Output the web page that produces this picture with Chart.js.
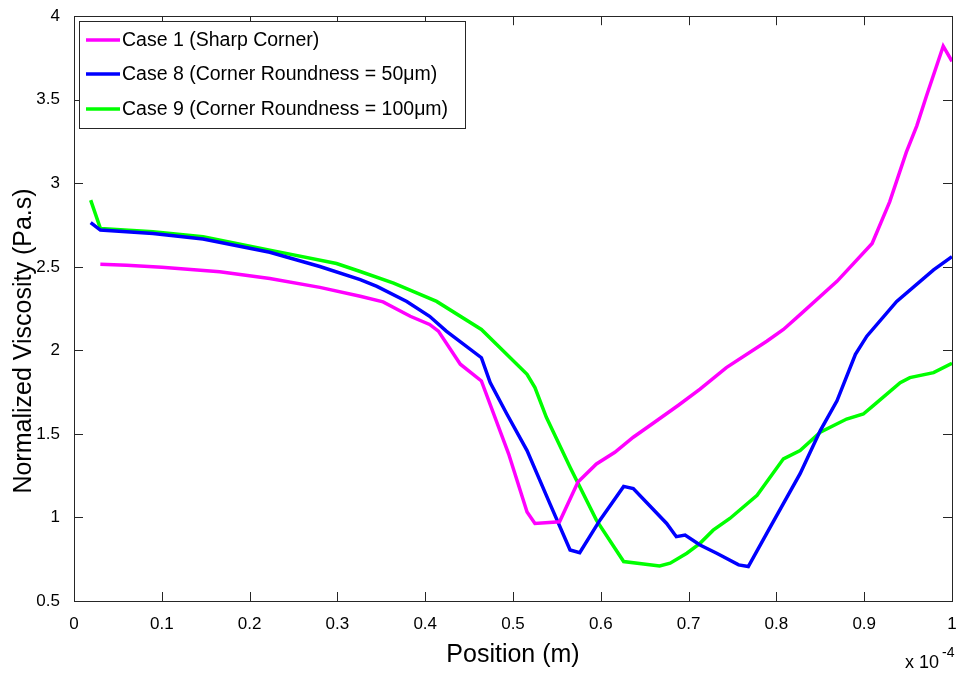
<!DOCTYPE html>
<html>
<head>
<meta charset="utf-8">
<script src="https://cdn.jsdelivr.net/npm/chart.js@4/dist/chart.umd.min.js"></script>
<style>
  html, body { margin: 0; padding: 0; background: #fff; }
  #wrap { width: 959px; height: 675px; }
</style>
</head>
<body>
<div id="wrap"><canvas id="viscosityChart" width="959" height="675"></canvas></div>
<script>
// ---- data (position in units of 1e-4 m) ----
const case1X = [0.03, 0.06, 0.1, 0.166, 0.223, 0.28, 0.326, 0.352, 0.383, 0.405, 0.415, 0.44, 0.464, 0.495, 0.516, 0.525, 0.553, 0.574, 0.595, 0.616, 0.637, 0.664, 0.688, 0.713, 0.743, 0.789, 0.808, 0.827, 0.869, 0.909, 0.929, 0.948, 0.96, 0.971, 0.99, 1.0];
const case1Y = [2.515, 2.51, 2.497, 2.47, 2.43, 2.377, 2.324, 2.29, 2.204, 2.155, 2.115, 1.917, 1.817, 1.381, 1.033, 0.964, 0.974, 1.212, 1.32, 1.39, 1.48, 1.58, 1.67, 1.768, 1.897, 2.055, 2.125, 2.214, 2.413, 2.64, 2.889, 3.186, 3.345, 3.524, 3.821, 3.73];

const case8X = [0.019, 0.03, 0.09, 0.147, 0.223, 0.28, 0.326, 0.345, 0.379, 0.405, 0.424, 0.464, 0.474, 0.493, 0.516, 0.542, 0.565, 0.576, 0.599, 0.626, 0.637, 0.675, 0.686, 0.696, 0.713, 0.732, 0.757, 0.768, 0.789, 0.827, 0.85, 0.869, 0.89, 0.903, 0.937, 0.979, 1.0];
const case8Y = [2.765, 2.72, 2.70, 2.667, 2.587, 2.502, 2.423, 2.383, 2.293, 2.204, 2.115, 1.956, 1.807, 1.619, 1.40, 1.083, 0.805, 0.789, 0.984, 1.186, 1.173, 0.964, 0.885, 0.895, 0.835, 0.786, 0.716, 0.706, 0.905, 1.262, 1.52, 1.698, 1.976, 2.085, 2.293, 2.482, 2.561];

const case9X = [0.019, 0.03, 0.09, 0.147, 0.223, 0.299, 0.326, 0.364, 0.413, 0.464, 0.489, 0.516, 0.525, 0.538, 0.565, 0.595, 0.626, 0.667, 0.679, 0.698, 0.713, 0.728, 0.747, 0.778, 0.808, 0.827, 0.85, 0.88, 0.899, 0.91, 0.941, 0.952, 0.979, 1.0];
const case9Y = [2.899, 2.73, 2.71, 2.68, 2.60, 2.52, 2.472, 2.402, 2.293, 2.125, 1.996, 1.857, 1.777, 1.599, 1.30, 0.984, 0.736, 0.71, 0.726, 0.786, 0.845, 0.924, 0.994, 1.133, 1.351, 1.40, 1.51, 1.589, 1.619, 1.668, 1.807, 1.837, 1.867, 1.923];

const seriesLabels = ['Case 1 (Sharp Corner)', 'Case 8 (Corner Roundness = 50\u03bcm)', 'Case 9 (Corner Roundness = 100\u03bcm)'];
const seriesColors = ['#FF00FF', '#0000FF', '#00FF00'];

const xTicks = [0, 0.1, 0.2, 0.3, 0.4, 0.5, 0.6, 0.7, 0.8, 0.9, 1];
const yTicks = [0.5, 1, 1.5, 2, 2.5, 3, 3.5, 4];

const yTitle = 'Normalized Viscosity (Pa.s)';
const FONT = 'Arial, "Liberation Sans", sans-serif';

function toPoints(xs, ys) {
    return xs.map((x, i) => ({ x: x, y: ys[i] }));
}

// matlab style box, inward ticks, legend, y title and exponent label
const matlabAxes = {
    id: 'matlabAxes',
    afterDraw(chart) {
        const ctx = chart.ctx;
        const a = chart.chartArea;
        const xs = chart.scales.x;
        const ys = chart.scales.y;
        const tl = 9;

        ctx.save();
        ctx.strokeStyle = '#262626';
        ctx.lineWidth = 1;
        ctx.beginPath();
        xTicks.forEach(v => {
            const px = Math.round(xs.getPixelForValue(v)) + 0.5;
            ctx.moveTo(px, a.bottom); ctx.lineTo(px, a.bottom - tl);
            ctx.moveTo(px, a.top); ctx.lineTo(px, a.top + tl);
        });
        yTicks.forEach(v => {
            const py = Math.round(ys.getPixelForValue(v)) + 0.5;
            ctx.moveTo(a.left, py); ctx.lineTo(a.left + tl, py);
            ctx.moveTo(a.right, py); ctx.lineTo(a.right - tl, py);
        });
        ctx.stroke();
        ctx.strokeRect(Math.round(a.left) + 0.5, Math.round(a.top) + 0.5, Math.round(a.right - a.left), Math.round(a.bottom - a.top));

        // legend
        const lx = 79, ly = 21, lw = 386, lh = 107;
        ctx.fillStyle = '#fff';
        ctx.fillRect(lx, ly, lw, lh);
        ctx.strokeRect(lx + 0.5, ly + 0.5, lw, lh);
        ctx.font = '19.5px ' + FONT;
        ctx.textBaseline = 'middle';
        ctx.textAlign = 'left';
        const rows = [40, 74, 109];
        chart.data.datasets.forEach((ds, i) => {
            ctx.strokeStyle = ds.borderColor;
            ctx.lineWidth = 3.5;
            ctx.beginPath();
            ctx.moveTo(86, rows[i]); ctx.lineTo(120, rows[i]);
            ctx.stroke();
            ctx.fillStyle = '#000';
            ctx.fillText(ds.label, 122, rows[i] + 1);
        });

        // y title
        ctx.save();
        ctx.translate(31, 341);
        ctx.rotate(-Math.PI / 2);
        ctx.textAlign = 'center';
        ctx.textBaseline = 'alphabetic';
        ctx.font = '25px ' + FONT;
        ctx.fillStyle = '#000';
        ctx.fillText(yTitle, 0, 0);
        ctx.restore();

        // exponent
        ctx.fillStyle = '#000';
        ctx.textBaseline = 'alphabetic';
        ctx.font = '18px ' + FONT;
        ctx.fillText('x 10', 905, 668);
        ctx.font = '14px ' + FONT;
        ctx.fillText('-4', 942, 657);
        ctx.restore();
    }
};

function initViscosityChart() {
    const ctx = document.getElementById('viscosityChart');
    const cases = [toPoints(case1X, case1Y), toPoints(case8X, case8Y), toPoints(case9X, case9Y)];

    new Chart(ctx, {
        type: 'line',
        data: {
            datasets: cases.map((pts, i) => ({
                label: seriesLabels[i],
                data: pts,
                borderColor: seriesColors[i],
                backgroundColor: seriesColors[i],
                borderWidth: 3.5,
                pointRadius: 0,
                tension: 0,
                fill: false
            }))
        },
        options: {
            responsive: false,
            animation: false,
            layout: { padding: { top: 13, right: 7, left: 0, bottom: 0 } },
            scales: {
                x: {
                    type: 'linear',
                    min: 0,
                    max: 1,
                    afterFit: s => { s.height = 74; s.paddingLeft = 0; s.paddingRight = 0; },
                    afterBuildTicks: s => { s.ticks = xTicks.map(v => ({ value: v })); },
                    grid: { display: false },
                    border: { display: false },
                    ticks: {
                        color: '#000',
                        padding: 5,
                        maxRotation: 0,
                        font: { family: FONT, size: 17 },
                        callback: v => String(+v.toFixed(1))
                    },
                    title: {
                        display: true,
                        text: 'Position (m)',
                        color: '#000',
                        padding: { top: 0, bottom: 5 },
                        font: { family: FONT, size: 25 }
                    }
                },
                y: {
                    min: 0.5,
                    max: 4,
                    afterFit: s => { s.width = 74; },
                    afterBuildTicks: s => { s.ticks = yTicks.map(v => ({ value: v })); },
                    grid: { display: false },
                    border: { display: false },
                    ticks: {
                        color: '#000',
                        padding: 6,
                        font: { family: FONT, size: 17 },
                        callback: v => String(v)
                    },
                    title: { display: false }
                }
            },
            plugins: {
                legend: { display: false },
                tooltip: { enabled: false }
            }
        },
        plugins: [matlabAxes]
    });
}

initViscosityChart();
</script>
</body>
</html>
